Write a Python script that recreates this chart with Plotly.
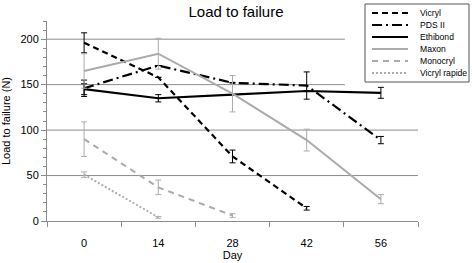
import plotly.graph_objects as go

days = [0, 14, 28, 42, 56]
day_labels = ["0", "14", "28", "42", "56"]

vicryl = [196, 158, 71, 14]
vicryl_err = [11, 0, 7, 2]
pds = [146, 171, 152, 149, 89]
pds_err = [9, 0, 0, 15, 4]
ethibond = [145, 135, 139, 143, 141]
ethibond_err = [6, 4, 0, 0, 6]
maxon = [165, 184, 140, 89, 24]
maxon_err = [19, 17, 20, 12, 5]
monocryl = [90, 37, 6]
monocryl_err = [19, 8, 2]
vicryl_rapide = [51, 4]
vicryl_rapide_err = [3, 1]

series = [
    ("Vicryl", vicryl, vicryl_err, "#000000", "6px,4px", 2.2),
    ("PDS II", pds, pds_err, "#000000", "10px,4px,2px,4px", 2.2),
    ("Ethibond", ethibond, ethibond_err, "#000000", "solid", 2.2),
    ("Maxon", maxon, maxon_err, "#ababab", "solid", 2),
    ("Monocryl", monocryl, monocryl_err, "#ababab", "6px,5px", 2),
    ("Vicryl rapide", vicryl_rapide, vicryl_rapide_err, "#ababab", "2px,2px", 1.8),
]

FONT = "Arial, Liberation Sans, sans-serif"
GRID = "#8c8c8c"
W, H = 472, 263
ML, MR, MT, MB = 47, 54, 21, 42
PW, PH = W - ML - MR, H - MT - MB


def px_x(px):
    return (px - ML) / PW


def px_y(py):
    return (H - MB - py) / PH


fig = go.Figure()
for name, vals, err, color, dash, w in series:
    fig.add_trace(go.Scatter(
        x=days[:len(vals)], y=vals, name=name, mode="lines",
        line=dict(color=color, dash=dash, width=w),
        error_y=dict(type="data", array=err, visible=True, color=color,
                     thickness=1, width=3),
        showlegend=False, hoverinfo="skip",
    ))

# horizontal gridlines (upper ones stop before the legend)
for yv, x1 in [(50, 63), (100, 63), (150, 49.2), (200, 49.2)]:
    fig.add_shape(type="line", xref="x", yref="y", x0=-7, x1=x1, y0=yv, y1=yv,
                  line=dict(color=GRID, width=1), layer="below")

# legend drawn manually (compact row spacing)
fig.add_shape(type="rect", xref="paper", yref="paper",
              x0=px_x(365), x1=px_x(469), y0=px_y(82), y1=px_y(4),
              line=dict(color="#555", width=1), fillcolor="white", layer="above")
for i, (name, vals, err, color, dash, w) in enumerate(series):
    yc = 13 + 12 * i
    fig.add_shape(type="line", xref="paper", yref="paper",
                  x0=px_x(372), x1=px_x(408), y0=px_y(yc), y1=px_y(yc),
                  line=dict(color=color, dash=dash, width=w), layer="above")
    fig.add_annotation(x=px_x(418), y=px_y(yc), xref="paper", yref="paper",
                       text=name, showarrow=False, xanchor="left", yanchor="middle",
                       font=dict(size=8.6, family=FONT, color="#000"))

fig.update_layout(
    width=W, height=H,
    margin=dict(l=ML, r=MR, t=MT, b=MB, autoexpand=False),
    paper_bgcolor="white", plot_bgcolor="white",
    font=dict(family=FONT, size=11, color="#000"),
    title=dict(text="Load to failure", x=0.5, xanchor="center", y=0.955, yanchor="middle",
               font=dict(size=15, family=FONT, color="#000")),
    showlegend=False,
)
fig.update_xaxes(
    range=[-7, 63], tickvals=days, ticktext=day_labels, ticks="",
    showgrid=False, zeroline=False, showline=True, linecolor=GRID, linewidth=1,
    ticklabelstandoff=12, tickfont=dict(size=11),
    minor=dict(tickvals=[-7, 7, 21, 35, 49, 63], ticks="outside", ticklen=5,
               tickcolor=GRID, showgrid=False),
    title=dict(text="Day", font=dict(size=11), standoff=0),
)
fig.update_yaxes(
    range=[0, 220], tickvals=[0, 50, 100, 150, 200], ticks="outside", ticklen=5,
    tickcolor=GRID, showgrid=False, zeroline=False, showline=True, linecolor=GRID,
    linewidth=1, tickfont=dict(size=11),
    minor=dict(dtick=10, ticks="outside", ticklen=3, tickcolor=GRID, showgrid=False),
    title=dict(text="Load to failure (N)", font=dict(size=11), standoff=8),
)

fig.write_html("out.html", config={"displayModeBar": False},
               post_script="document.body.style.margin='0';")
